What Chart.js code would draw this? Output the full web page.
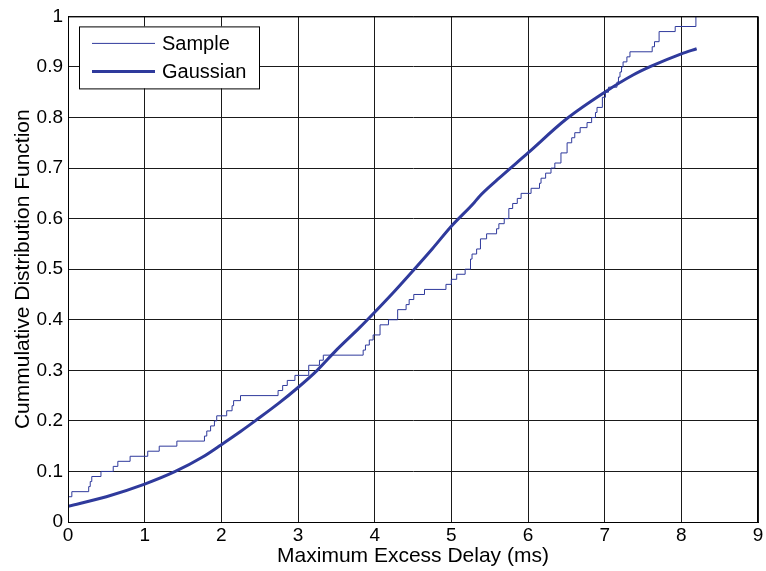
<!DOCTYPE html>
<html>
<head>
<meta charset="utf-8">
<title>CDF of maximum excess delay</title>
<script src="https://cdn.jsdelivr.net/npm/chart.js@4.4.0/dist/chart.umd.min.js"></script>
<style>
  html, body { margin: 0; padding: 0; background: #fff; }
  #wrap { width: 766px; height: 571px; }
</style>
</head>
<body>
<div id="wrap"><canvas id="cdfChart" width="766" height="571"></canvas></div>
<script>
// empirical CDF of the measured delays (x in ms, y = fraction)
const sampleX = [0.00, 0.05, 0.27, 0.29, 0.31, 0.43, 0.59, 0.65, 0.81, 1.04,
  1.19, 1.42, 1.78, 1.81, 1.86, 1.91, 1.94, 2.07, 2.14, 2.16,
  2.25, 2.74, 2.80, 2.86, 2.96, 3.14, 3.28, 3.33, 3.85, 3.88,
  3.93, 3.98, 4.07, 4.18, 4.30, 4.41, 4.45, 4.51, 4.65, 4.93,
  5.00, 5.07, 5.18, 5.25, 5.27, 5.33, 5.38, 5.46, 5.59, 5.62,
  5.69, 5.75, 5.80, 5.86, 5.91, 6.04, 6.15, 6.17, 6.23, 6.30,
  6.35, 6.43, 6.51, 6.57, 6.61, 6.68, 6.77, 6.83, 6.88, 6.90,
  6.97, 7.01, 7.05, 7.16, 7.18, 7.20, 7.22, 7.24, 7.29, 7.33,
  7.62, 7.65, 7.71, 7.92, 8.19];
const sampleY = [0.05, 0.06, 0.07, 0.08, 0.09, 0.10, 0.11, 0.12, 0.13, 0.14,
  0.15, 0.16, 0.17, 0.18, 0.19, 0.20, 0.21, 0.22, 0.23, 0.24,
  0.25, 0.26, 0.27, 0.28, 0.29, 0.31, 0.32, 0.33, 0.34, 0.35,
  0.36, 0.37, 0.39, 0.40, 0.42, 0.43, 0.44, 0.45, 0.46, 0.47,
  0.48, 0.49, 0.50, 0.52, 0.53, 0.54, 0.56, 0.57, 0.58, 0.59,
  0.60, 0.62, 0.63, 0.64, 0.65, 0.66, 0.67, 0.68, 0.69, 0.70,
  0.71, 0.73, 0.75, 0.76, 0.77, 0.78, 0.79, 0.80, 0.81, 0.82,
  0.84, 0.85, 0.86, 0.87, 0.88, 0.89, 0.90, 0.91, 0.92, 0.93,
  0.94, 0.95, 0.97, 0.98, 1.00];

// fitted gaussian CDF
const gaussX = [0.0, 0.5, 1.0, 1.4, 1.75, 2.0, 2.25, 2.45, 2.75, 3.0,
  3.25, 3.5, 3.8, 4.0, 4.25, 4.5, 4.75, 5.0, 5.3, 5.36,
  5.6, 6.0, 6.5, 7.0, 7.37, 7.6, 8.0, 8.2];
const gaussY = [0.031, 0.050, 0.075, 0.100, 0.128, 0.153, 0.179, 0.201, 0.235, 0.266,
  0.300, 0.340, 0.384, 0.415, 0.455, 0.497, 0.540, 0.585, 0.632, 0.643,
  0.677, 0.730, 0.797, 0.850, 0.884, 0.901, 0.926, 0.936];

const xTickLabels = ["0", "1", "2", "3", "4", "5", "6", "7", "8", "9"];
const yTickLabels = ["0", "0.1", "0.2", "0.3", "0.4", "0.5", "0.6", "0.7", "0.8", "0.9", "1"];
const seriesNames = ["Sample", "Gaussian"];

const lineBlue = "#2f3a9c";
const fontFamily = "'Liberation Sans', Arial, Helvetica, sans-serif";

const toPoints = (xs, ys) => xs.map((x, i) => ({ x: x, y: ys[i] }));

// axes box drawn on all four sides, like matlab
const boxPlugin = {
  id: "boxPlugin",
  afterDatasetsDraw(chart) {
    const { ctx, chartArea: a } = chart;
    ctx.save();
    ctx.strokeStyle = "#000";
    ctx.lineWidth = 1;
    ctx.strokeRect(a.left + 0.5, a.top + 0.5, a.right - a.left - 1, a.bottom - a.top);
    ctx.restore();
  }
};

// legend box inside the plot, top left
const legendBox = {
  id: "legendBox",
  afterDraw(chart) {
    const { ctx, chartArea: a } = chart;
    const x0 = a.left + 11, y0 = a.top + 10, w = 180, h = 62;
    ctx.save();
    ctx.fillStyle = "#fff";
    ctx.fillRect(x0, y0, w, h);
    ctx.strokeStyle = "#000";
    ctx.lineWidth = 1;
    ctx.strokeRect(x0 + 0.5, y0 + 0.5, w, h);
    const widths = [1, 3];
    seriesNames.forEach((name, i) => {
      const yy = y0 + 17 + i * 28;
      ctx.strokeStyle = lineBlue;
      ctx.lineWidth = widths[i];
      ctx.beginPath();
      ctx.moveTo(x0 + 13, yy);
      ctx.lineTo(x0 + 76, yy);
      ctx.stroke();
      ctx.fillStyle = "#000";
      ctx.font = "20px " + fontFamily;
      ctx.textBaseline = "middle";
      ctx.textAlign = "left";
      ctx.fillText(name, x0 + 83, yy + 1);
    });
    ctx.restore();
  }
};

const ctx = document.getElementById("cdfChart").getContext("2d");
new Chart(ctx, {
  type: "scatter",
  data: {
    datasets: [
      {
        label: seriesNames[1],
        data: toPoints(gaussX, gaussY),
        showLine: true,
        borderColor: lineBlue,
        borderWidth: 3,
        pointRadius: 0,
        cubicInterpolationMode: "monotone",
        order: 0
      },
      {
        label: seriesNames[0],
        data: toPoints(sampleX, sampleY),
        showLine: true,
        stepped: "before",
        borderColor: lineBlue,
        borderWidth: 1,
        pointRadius: 0,
        order: 1
      }
    ]
  },
  options: {
    responsive: false,
    animation: false,
    devicePixelRatio: 1,
    layout: { padding: { top: 14, right: 8, left: 0, bottom: 0 } },
    plugins: {
      legend: { display: false },
      tooltip: { enabled: false }
    },
    scales: {
      x: {
        type: "linear",
        min: 0,
        max: 9,
        afterFit: (s) => { s.height = 49; },
        grid: { color: "#1a1a1a", lineWidth: 1, drawTicks: false },
        border: { display: true, color: "#000", width: 1 },
        ticks: {
          stepSize: 1,
          padding: 2,
          color: "#000",
          font: { family: fontFamily, size: 19 },
          callback: (v, i) => xTickLabels[i]
        },
        title: {
          display: true,
          text: "Maximum Excess Delay (ms)",
          color: "#000",
          font: { family: fontFamily, size: 21 },
          padding: { top: 0, bottom: 2 }
        }
      },
      y: {
        type: "linear",
        min: 0,
        max: 1,
        afterFit: (s) => { s.width = 68; },
        grid: { color: "#1a1a1a", lineWidth: 1, drawTicks: false },
        border: { display: true, color: "#000", width: 1 },
        ticks: {
          stepSize: 0.1,
          padding: 5,
          color: "#000",
          font: { family: fontFamily, size: 19 },
          callback: (v, i) => yTickLabels[i]
        },
        title: {
          display: true,
          text: "Cummulative Distribution Function",
          color: "#000",
          font: { family: fontFamily, size: 21 },
          padding: { top: 11, bottom: 0 }
        }
      }
    }
  },
  plugins: [boxPlugin, legendBox]
});
</script>
</body>
</html>
